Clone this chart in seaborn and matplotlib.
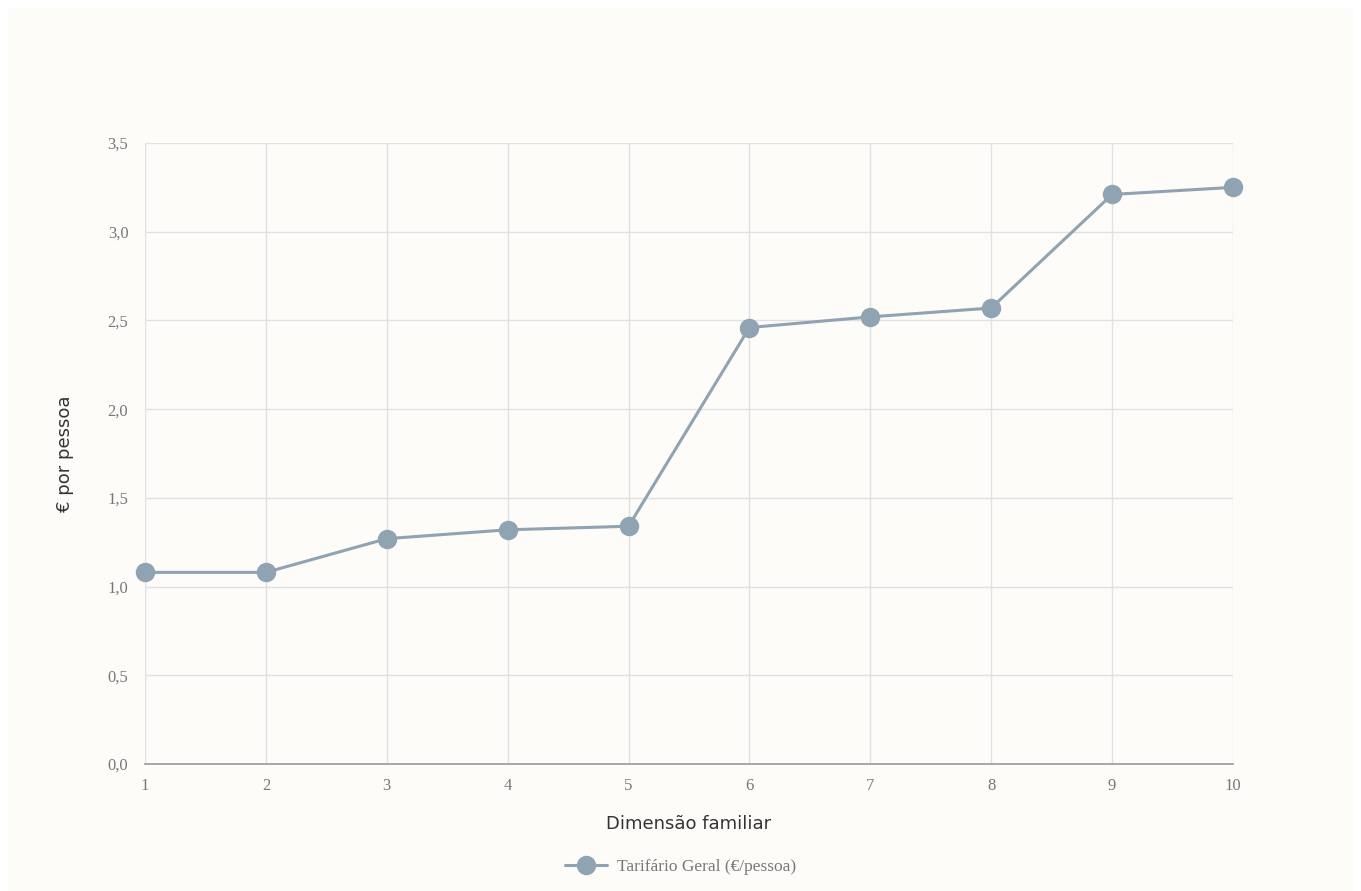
import matplotlib
matplotlib.use("Agg")
import matplotlib.pyplot as plt
import matplotlib.patches as mpatches
import seaborn as sns
import pandas as pd
from matplotlib.ticker import FuncFormatter

# dados do gráfico
dimensao = [1, 2, 3, 4, 5, 6, 7, 8, 9, 10]
tarifario_geral = [1.08, 1.08, 1.27, 1.32, 1.34, 2.46, 2.52, 2.57, 3.21, 3.25]
y_ticks = [0.0, 0.5, 1.0, 1.5, 2.0, 2.5, 3.0, 3.5]
serie_nome = "Tarifário Geral (€/pessoa)"

df = pd.DataFrame({"dimensao": dimensao, "valor": tarifario_geral})

sns.set_style("white")
plt.rcParams["font.family"] = ["DejaVu Sans"]

cor_linha = "#8fa3b2"
fundo = "#fdfcf9"

fig = plt.figure(figsize=(13.61, 8.91), dpi=100, facecolor="white")
fig.patches.append(mpatches.Rectangle((8 / 1361, 0), 1 - 16 / 1361, 1 - 8 / 891,
                                      transform=fig.transFigure, facecolor=fundo,
                                      edgecolor="none", zorder=-10))
ax = fig.add_axes([145 / 1361, 1 - 764 / 891, (1233 - 145) / 1361, (764 - 143) / 891])
ax.set_facecolor(fundo)

sns.lineplot(data=df, x="dimensao", y="valor", ax=ax, color=cor_linha, linewidth=2.2,
             marker="o", markersize=14, markeredgewidth=0, label=serie_nome, legend=False)
for ln in ax.lines:
    ln.set_clip_on(False)
    ln.set_zorder(5)

ax.set_xlim(1, 10)
ax.set_ylim(0, 3.5)
ax.set_xticks(dimensao)
ax.set_yticks(y_ticks)
ax.yaxis.set_major_formatter(FuncFormatter(lambda v, p: f"{v:.1f}".replace(".", ",")))
ax.grid(True, color="#e1e1e1", linewidth=1)
ax.set_axisbelow(True)
for s in ["top", "right", "left"]:
    ax.spines[s].set_visible(False)
ax.spines["bottom"].set_color("#9a9a9a")
ax.spines["bottom"].set_linewidth(1.2)
ax.tick_params(axis="both", length=0, labelsize=12, labelcolor="#777777", pad=10)
ax.tick_params(axis="y", pad=12)
for lab in ax.get_xticklabels() + ax.get_yticklabels():
    lab.set_family("Liberation Serif")

ax.set_xlabel("Dimensão familiar", fontsize=13, color="#333333", labelpad=15)
ax.set_ylabel("€ por pessoa", fontsize=13, color="#333333", labelpad=24)

leg = fig.legend(loc="center", bbox_to_anchor=(0.5, 1 - 867 / 891), frameon=False,
                 prop={"family": "Liberation Serif", "size": 12.5}, handlelength=2.4,
                 handletextpad=0.6)
for t in leg.get_texts():
    t.set_color("#777777")

fig.savefig("out.png", dpi=100, facecolor=fig.get_facecolor())
